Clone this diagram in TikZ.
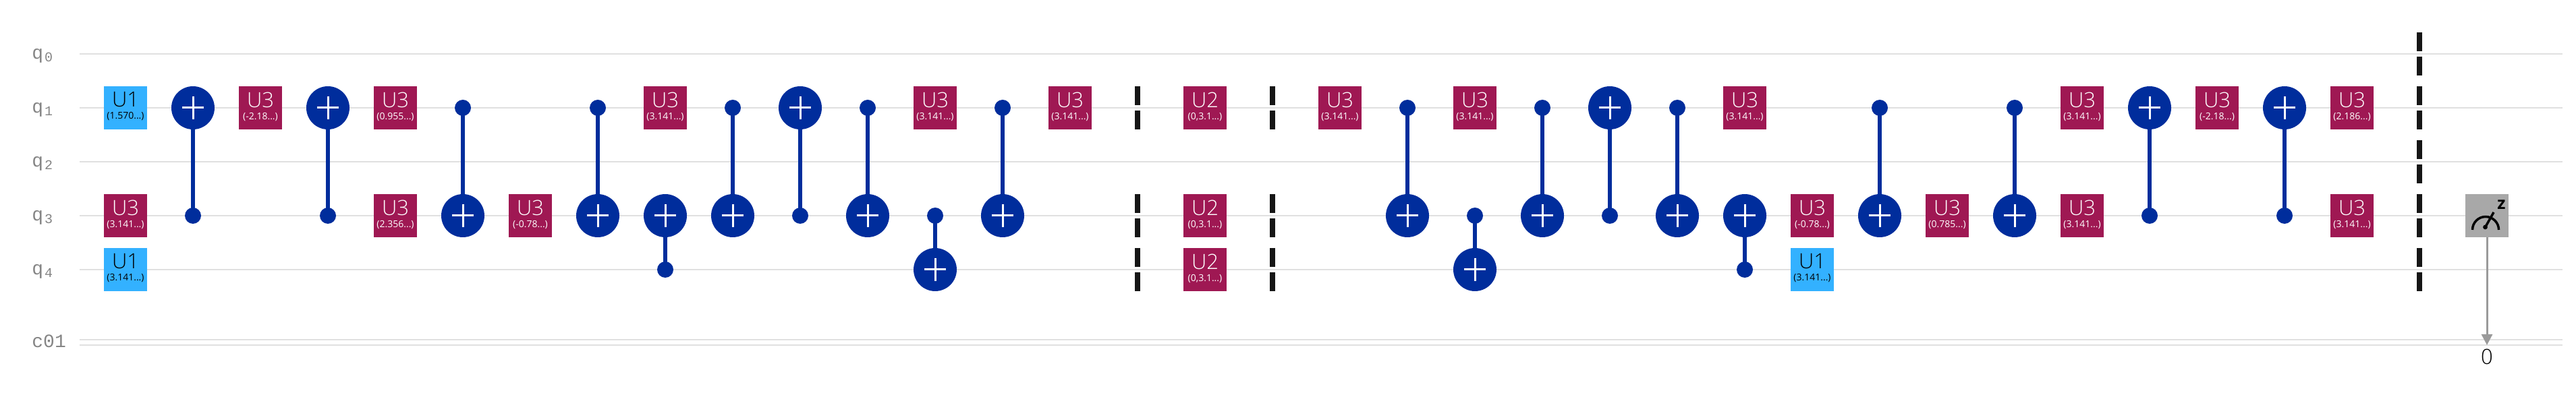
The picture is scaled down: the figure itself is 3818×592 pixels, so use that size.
\documentclass[tikz,border=0pt]{standalone}
\usepackage{fontspec}
\setmainfont{Open Sans Light}
\setmonofont{Liberation Mono}
\newfontfamily\paramfont{Open Sans}
\usetikzlibrary{arrows.meta}

\definecolor{wirecol}{HTML}{E0E0E0}
\definecolor{cxblue}{HTML}{002D9C}
\definecolor{uthree}{HTML}{9F1853}
\definecolor{uone}{HTML}{33B1FF}
\definecolor{labelcol}{HTML}{858585}
\definecolor{meascol}{HTML}{A8A8A8}
\definecolor{arrowcol}{HTML}{9A9A9A}
\definecolor{barcol}{HTML}{161616}

\newcommand{\gatetext}[2]{{\fontsize{15.5}{16}\selectfont #1}\\[-3pt]{\paramfont\fontsize{7}{8}\selectfont #2\rule[-3.2pt]{0pt}{1pt}}}
\newcommand{\qlabel}[1]{\fontsize{14}{14}\selectfont q\kern1pt\raisebox{-2pt}{\fontsize{10}{10}\selectfont #1}}

\tikzset{
  wire/.style={wirecol,line width=1pt},
  gatebox/.style={rectangle,minimum size=32pt,inner sep=0pt,align=center},
  uthreebox/.style={gatebox,fill=uthree,text=white},
  uonebox/.style={gatebox,fill=uone,text=black},
  target/.style={circle,fill=cxblue,minimum size=32pt,inner sep=0pt,
    path picture={\draw[white,line width=1.5pt]
      (path picture bounding box.center) +(-8pt,0pt) -- +(8pt,0pt)
      (path picture bounding box.center) +(0pt,-8.5pt) -- +(0pt,8.5pt);}},
  control/.style={circle,fill=cxblue,minimum size=12pt,inner sep=0pt},
  cx/.style={cxblue,line width=3pt,shorten <=-1pt,shorten >=-1pt},
  barrier/.style={barcol,line width=4pt,dash pattern=on 14pt off 4pt},
  wirelabel/.style={anchor=base west,inner sep=0pt,text=labelcol,font=\ttfamily},
  meterline/.style={black,line width=1.75pt},
}

\begin{document}
\begin{tikzpicture}[x=0.5pt,y=-0.5pt]
  \useasboundingbox (0,0) rectangle (3818,592);

  %wires
  \draw[wire] (118,80) -- (3798,80);
  \draw[wire] (118,160) -- (3798,160);
  \draw[wire] (118,240) -- (3798,240);
  \draw[wire] (118,320) -- (3798,320);
  \draw[wire] (118,400) -- (3798,400);
  \draw[wire] (118,504) -- (3798,504);
  \draw[wire] (118,512) -- (3798,512);

  \node[wirelabel] (q0) at (47,88) {\qlabel{0}};
  \node[wirelabel] (q1) at (47,168) {\qlabel{1}};
  \node[wirelabel] (q2) at (47,248) {\qlabel{2}};
  \node[wirelabel] (q3) at (47,328) {\qlabel{3}};
  \node[wirelabel] (q4) at (47,408) {\qlabel{4}};
  \node[wirelabel] (c01) at (47,516) {\fontsize{14}{14}\selectfont c01};

  %first block
  \node[uonebox] (a1) at (186,160) {\gatetext{U1}{(1.570...)}};
  \node[uthreebox] (a2) at (186,320) {\gatetext{U3}{(3.141...)}};
  \node[uonebox] (a3) at (186,400) {\gatetext{U1}{(3.141...)}};

  \node[target] (t1) at (286,160) {};
  \node[control] (c1) at (286,320) {};
  \draw[cx] (t1) -- (c1);
  \node[uthreebox] (a4) at (386,160) {\gatetext{U3}{(-2.18...)}};
  \node[target] (t2) at (486,160) {};
  \node[control] (c2) at (486,320) {};
  \draw[cx] (t2) -- (c2);
  \node[uthreebox] (a5) at (586,160) {\gatetext{U3}{(0.955...)}};
  \node[uthreebox] (a6) at (586,320) {\gatetext{U3}{(2.356...)}};

  \node[control] (c3) at (686,160) {};
  \node[target] (t3) at (686,320) {};
  \draw[cx] (c3) -- (t3);
  \node[uthreebox] (a7) at (786,320) {\gatetext{U3}{(-0.78...)}};
  \node[control] (c4) at (886,160) {};
  \node[target] (t4) at (886,320) {};
  \draw[cx] (c4) -- (t4);
  \node[uthreebox] (a8) at (986,160) {\gatetext{U3}{(3.141...)}};
  \node[target] (t5) at (986,320) {};
  \node[control] (c5) at (986,400) {};
  \draw[cx] (t5) -- (c5);
  \node[control] (c6) at (1086,160) {};
  \node[target] (t6) at (1086,320) {};
  \draw[cx] (c6) -- (t6);
  \node[target] (t7) at (1186,160) {};
  \node[control] (c7) at (1186,320) {};
  \draw[cx] (t7) -- (c7);
  \node[control] (c8) at (1286,160) {};
  \node[target] (t8) at (1286,320) {};
  \draw[cx] (c8) -- (t8);
  \node[uthreebox] (a9) at (1386,160) {\gatetext{U3}{(3.141...)}};
  \node[control] (c9) at (1386,320) {};
  \node[target] (t9) at (1386,400) {};
  \draw[cx] (c9) -- (t9);
  \node[control] (c10) at (1486,160) {};
  \node[target] (t10) at (1486,320) {};
  \draw[cx] (c10) -- (t10);
  \node[uthreebox] (a10) at (1586,160) {\gatetext{U3}{(3.141...)}};

  %U2 column between barriers
  \draw[barrier] (1686,128) -- (1686,192);
  \draw[barrier] (1686,288) -- (1686,352);
  \draw[barrier] (1686,368) -- (1686,432);
  \node[uthreebox] (b1) at (1786,160) {\gatetext{U2}{(0,3.1...)}};
  \node[uthreebox] (b2) at (1786,320) {\gatetext{U2}{(0,3.1...)}};
  \node[uthreebox] (b3) at (1786,400) {\gatetext{U2}{(0,3.1...)}};
  \draw[barrier] (1886,128) -- (1886,192);
  \draw[barrier] (1886,288) -- (1886,352);
  \draw[barrier] (1886,368) -- (1886,432);

  %second block
  \node[uthreebox] (d1) at (1986,160) {\gatetext{U3}{(3.141...)}};
  \node[control] (c11) at (2086,160) {};
  \node[target] (t11) at (2086,320) {};
  \draw[cx] (c11) -- (t11);
  \node[uthreebox] (d2) at (2186,160) {\gatetext{U3}{(3.141...)}};
  \node[control] (c12) at (2186,320) {};
  \node[target] (t12) at (2186,400) {};
  \draw[cx] (c12) -- (t12);
  \node[control] (c13) at (2286,160) {};
  \node[target] (t13) at (2286,320) {};
  \draw[cx] (c13) -- (t13);
  \node[target] (t14) at (2386,160) {};
  \node[control] (c14) at (2386,320) {};
  \draw[cx] (t14) -- (c14);
  \node[control] (c15) at (2486,160) {};
  \node[target] (t15) at (2486,320) {};
  \draw[cx] (c15) -- (t15);
  \node[uthreebox] (d3) at (2586,160) {\gatetext{U3}{(3.141...)}};
  \node[target] (t16) at (2586,320) {};
  \node[control] (c16) at (2586,400) {};
  \draw[cx] (t16) -- (c16);
  \node[uthreebox] (d4) at (2686,320) {\gatetext{U3}{(-0.78...)}};
  \node[uonebox] (d5) at (2686,400) {\gatetext{U1}{(3.141...)}};
  \node[control] (c17) at (2786,160) {};
  \node[target] (t17) at (2786,320) {};
  \draw[cx] (c17) -- (t17);
  \node[uthreebox] (d6) at (2886,320) {\gatetext{U3}{(0.785...)}};
  \node[control] (c18) at (2986,160) {};
  \node[target] (t18) at (2986,320) {};
  \draw[cx] (c18) -- (t18);
  \node[uthreebox] (d7) at (3086,160) {\gatetext{U3}{(3.141...)}};
  \node[uthreebox] (d8) at (3086,320) {\gatetext{U3}{(3.141...)}};
  \node[target] (t19) at (3186,160) {};
  \node[control] (c19) at (3186,320) {};
  \draw[cx] (t19) -- (c19);
  \node[uthreebox] (d9) at (3286,160) {\gatetext{U3}{(-2.18...)}};
  \node[target] (t20) at (3386,160) {};
  \node[control] (c20) at (3386,320) {};
  \draw[cx] (t20) -- (c20);
  \node[uthreebox] (d10) at (3486,160) {\gatetext{U3}{(2.186...)}};
  \node[uthreebox] (d11) at (3486,320) {\gatetext{U3}{(3.141...)}};

  %last barrier
  \draw[barrier] (3586,48) -- (3586,112);
  \draw[barrier] (3586,128) -- (3586,192);
  \draw[barrier] (3586,208) -- (3586,272);
  \draw[barrier] (3586,288) -- (3586,352);
  \draw[barrier] (3586,368) -- (3586,432);

  %measure
  \node[rectangle,fill=meascol,minimum size=32pt,inner sep=0pt] (meas) at (3686,320) {};
  \draw[meterline] (3664.5,341) arc[start angle=180,end angle=360,radius=19.5];
  \draw[meterline] (3683.5,337) -- (3696,315);
  \fill[black] (3683.5,337) circle (3.4);
  \node[inner sep=0pt,font=\paramfont\bfseries\fontsize{12.5}{12.5}\selectfont] (measz) at (3707.5,304) {z};
  \coordinate (cbit) at (3686,512);
  \draw[arrowcol,line width=1.5pt,-{Triangle[length=8pt,width=8pt]}] (meas) -- (cbit);
  \node[inner sep=0pt,font=\fontsize{15.5}{15.5}\selectfont] (cidx) at (3686,529) {0};

\end{tikzpicture}
\end{document}
